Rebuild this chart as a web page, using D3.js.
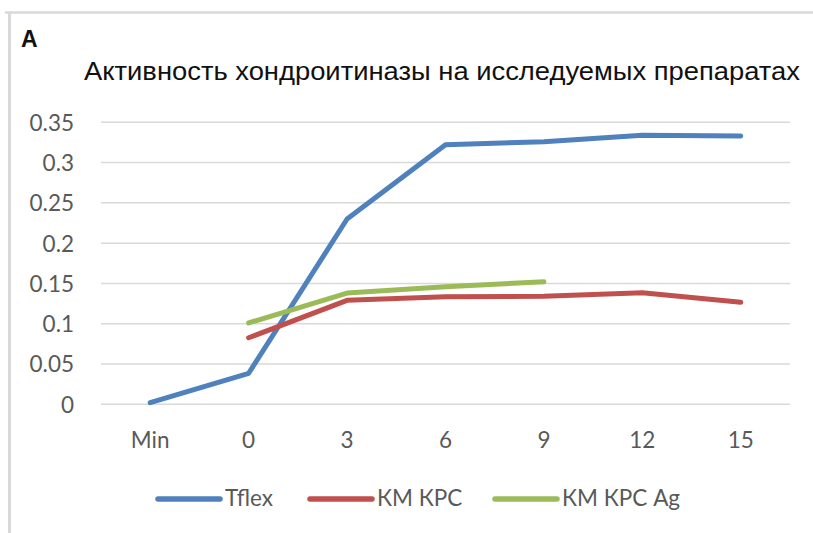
<!DOCTYPE html>
<html>
<head>
<meta charset="utf-8">
<script src="https://cdn.jsdelivr.net/npm/d3@7/dist/d3.min.js"></script>
<style>
  html, body { margin: 0; padding: 0; background: #fff; }
  svg { display: block; }
</style>
</head>
<body>
<svg id="chart" width="813" height="533"></svg>
<script>
const categories = ["Min", "0", "3", "6", "9", "12", "15"];
const tflex = [0.002, 0.0385, 0.230, 0.322, 0.326, 0.334, 0.333];
const kmKpc = [null, 0.0826, 0.129, 0.1335, 0.134, 0.1385, 0.1266];
const kmKpcAg = [null, 0.101, 0.138, 0.146, 0.152, null, null];
const yTicks = [0, 0.05, 0.1, 0.15, 0.2, 0.25, 0.3, 0.35];
const seriesNames = ["Tflex", "КМ КРС", "КМ КРС Ag"];
const seriesColors = ["#4F81BD", "#C0504D", "#9BBB59"];
const titleText = "Активность хондроитиназы на исследуемых препаратах";
const panelLabel = "A";

(function () {
const svg = d3.select("#chart");
const pL = 101, pR = 790, pT = 122.3, pB = 404.3;

// frame
svg.append("line").attr("x1", 5).attr("x2", 813).attr("y1", 12.5).attr("y2", 12.5)
  .attr("stroke", "#d9d9d9").attr("stroke-width", 2.5);
svg.append("line").attr("x1", 9.5).attr("x2", 9.5).attr("y1", 12).attr("y2", 533)
  .attr("stroke", "#d9d9d9").attr("stroke-width", 3);

svg.append("text").text(panelLabel)
  .attr("x", 21).attr("y", 47)
  .attr("font-family", "Liberation Sans, Arial, sans-serif")
  .attr("font-weight", "bold").attr("font-size", 23).attr("fill", "#111");

svg.append("text").text(titleText)
  .attr("x", 84).attr("y", 80)
  .attr("font-family", "Liberation Sans, Arial, sans-serif")
  .attr("font-size", 25).attr("fill", "#111")
  .attr("textLength", 716).attr("lengthAdjust", "spacingAndGlyphs");

const x = d3.scaleBand().domain(categories).range([pL, pR]);
const y = d3.scaleLinear().domain([0, 0.35]).range([pB, pT]);

// gridlines
svg.append("g").selectAll("line").data(yTicks).join("line")
  .attr("x1", pL).attr("x2", pR)
  .attr("y1", d => y(d)).attr("y2", d => y(d))
  .attr("stroke", "#d9d9d9").attr("stroke-width", 1.5);

const fontFam = "Lato, 'Open Sans', sans-serif";
const fs = 22.5;

// y axis labels
const yAxis = d3.axisLeft(y).tickValues(yTicks).tickSize(0).tickPadding(0)
  .tickFormat(d => String(+d.toFixed(2)));
const gy = svg.append("g").attr("transform", `translate(74,0)`).call(yAxis);
gy.select(".domain").remove();
gy.selectAll("text").attr("font-family", fontFam).attr("font-size", fs)
  .attr("fill", "#595959").attr("dy", "0.35em");

// x axis labels
const xAxis = d3.axisBottom(x).tickSize(0).tickPadding(0);
const gx = svg.append("g").attr("transform", `translate(0,432)`).call(xAxis);
gx.select(".domain").remove();
gx.selectAll("text").attr("font-family", fontFam).attr("font-size", fs)
  .attr("fill", "#595959").attr("dy", "0.71em");

// lines
const allSeries = [tflex, kmKpc, kmKpcAg];
const line = d3.line()
  .defined(d => d.v !== null)
  .x(d => x(d.c) + x.bandwidth() / 2)
  .y(d => y(d.v));
allSeries.forEach((s, i) => {
  svg.append("path")
    .datum(s.map((v, j) => ({ c: categories[j], v })))
    .attr("d", line)
    .attr("fill", "none")
    .attr("stroke", seriesColors[i])
    .attr("stroke-width", 5)
    .attr("stroke-linecap", "round")
    .attr("stroke-linejoin", "round");
});

// legend
const legendX = [158, 310, 495];
const lg = svg.append("g");
seriesNames.forEach((n, i) => {
  lg.append("line").attr("x1", legendX[i]).attr("x2", legendX[i] + 62)
    .attr("y1", 499).attr("y2", 499)
    .attr("stroke", seriesColors[i]).attr("stroke-width", 5.5).attr("stroke-linecap", "round");
  lg.append("text").text(n).attr("x", legendX[i] + 67).attr("y", 506)
    .attr("font-family", fontFam).attr("font-size", fs).attr("fill", "#595959");
});
})();
</script>
</body>
</html>
